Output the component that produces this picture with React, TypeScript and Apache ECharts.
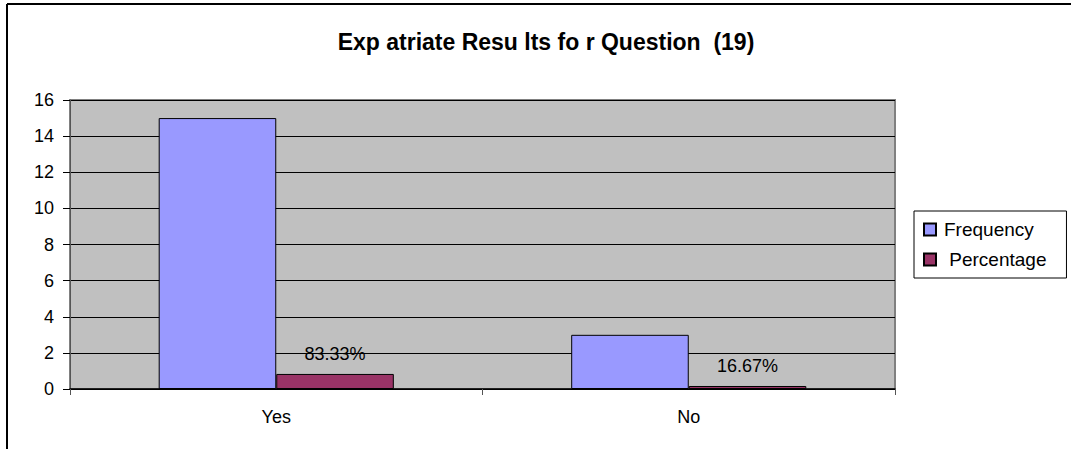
import React, { useEffect, useRef } from "react";
import * as echarts from "echarts";

const titleText = "Exp atriate Resu lts fo r Question  (19)";
const categories = ["Yes", "No"];
const frequency = [15, 3];
const percentage = [0.8333, 0.1667];
const yTicks = { min: 0, max: 16, interval: 2 };

export default function App() {
  const ref = useRef<HTMLDivElement>(null);
  useEffect(() => {
    if (!ref.current) return;
    const chart = echarts.init(ref.current, null, { renderer: "svg" });
    const font = "Liberation Sans, Arial, sans-serif";
    chart.setOption({
      animation: false,
      backgroundColor: "#ffffff",
      textStyle: { fontFamily: font, color: "#000" },
      title: {
        text: titleText,
        left: 541,
        textAlign: "center",
        top: 25,
        textStyle: { fontFamily: font, fontSize: 23, fontWeight: "bold", color: "#000" },
      },
      legend: {
        orient: "vertical",
        left: 914,
        top: 211,
        padding: [9, 20, 9, 9],
        itemGap: 11,
        itemWidth: 12,
        itemHeight: 12,
        borderColor: "#000",
        borderWidth: 1,
        icon: "rect",
        formatter: (name: string) => (name === "Percentage" ? " " + name : name),
        textStyle: { fontFamily: font, fontSize: 19, lineHeight: 16, color: "#000", padding: [0, 0, 0, 3] },
        data: ["Frequency", "Percentage"],
      },
      grid: {
        left: 70,
        right: 176,
        top: 100,
        bottom: 60,
        show: true,
        backgroundColor: "#C0C0C0",
        borderColor: "#808080",
        borderWidth: 2,
        containLabel: false,
      },
      xAxis: {
        type: "category",
        data: categories,
        axisLine: { show: true, lineStyle: { color: "#000", width: 1.5 } },
        axisTick: { show: true, alignWithLabel: false, length: 6, lineStyle: { color: "#555" } },
        axisLabel: { color: "#000", fontSize: 18, fontFamily: font, margin: 19 },
      },
      yAxis: {
        type: "value",
        min: yTicks.min,
        max: yTicks.max,
        interval: yTicks.interval,
        axisLine: { show: true, lineStyle: { color: "#555", width: 1 } },
        axisTick: { show: true, length: 7, lineStyle: { color: "#000" } },
        axisLabel: { color: "#000", fontSize: 18, fontFamily: font, margin: 16 },
        splitLine: { show: true, lineStyle: { color: "#000", width: 1 } },
      },
      series: [
        {
          name: "Frequency",
          type: "bar",
          data: frequency,
          barGap: "0%",
          barCategoryGap: "43%",
          itemStyle: { color: "#9999FF", borderColor: "#000", borderWidth: 1 },
        },
        {
          name: "Percentage",
          type: "bar",
          data: percentage,
          barGap: "0%",
          barCategoryGap: "43%",
          itemStyle: { color: "#993366", borderColor: "#000", borderWidth: 1 },
          label: {
            show: true,
            position: "top",
            distance: 11,
            fontSize: 18,
            fontFamily: font,
            color: "#000",
            formatter: (p: any) => (p.value * 100).toFixed(2) + "%",
          },
        },
      ],
      graphic: [
        { type: "line", shape: { x1: 7, y1: 4, x2: 1071, y2: 4 }, style: { stroke: "#000", lineWidth: 2 } },
        { type: "line", shape: { x1: 7, y1: 4, x2: 7, y2: 449 }, style: { stroke: "#000", lineWidth: 2 } },
      ],
    });
    return () => chart.dispose();
  }, []);
  return (
    <div
      ref={ref}
      style={{ position: "fixed", left: 0, top: 0, width: 1071, height: 449 }}
    />
  );
}
